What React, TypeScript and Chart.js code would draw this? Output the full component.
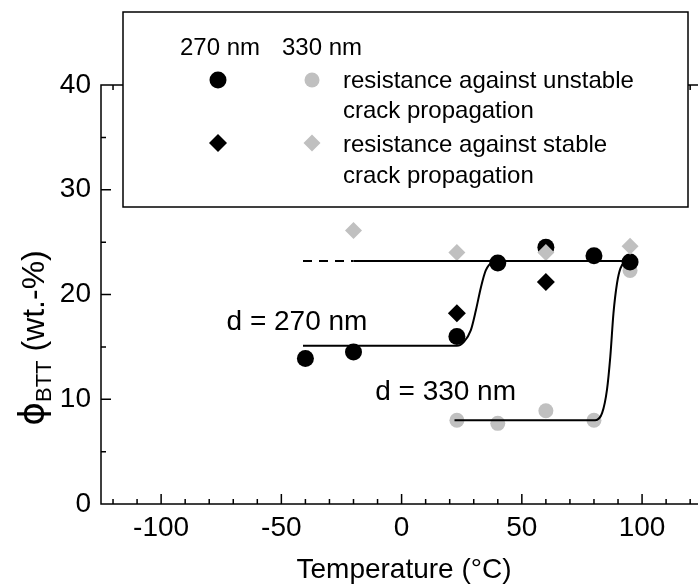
import React, { useEffect, useRef } from 'react';
import { Chart, registerables } from 'chart.js';

Chart.register(...registerables);

// ---------- data ----------
const xMajorLabels = [-100, -50, 0, 50, 100];
const yMajorLabels = [0, 10, 20, 30, 40];

const temp270Unstable = [-40, -20, 23, 40, 60, 80, 95];
const phi270Unstable = [13.9, 14.5, 16.0, 23.0, 24.5, 23.7, 23.1];

const temp270Stable = [23, 60];
const phi270Stable = [18.2, 21.2];

const temp330Unstable = [23, 40, 60, 80, 95];
const phi330Unstable = [8.0, 7.7, 8.9, 8.0, 22.3];

const temp330Stable = [-20, 23, 60, 95];
const phi330Stable = [26.1, 24.0, 24.0, 24.6];

// fitted step curves
const fit270Temp = [-41, 23, 26, 28.8, 30.9, 33, 35, 37.8, 40];
const fit270Phi = [15.1, 15.1, 15.5, 16.6, 18.5, 20.7, 22.3, 23.1, 23.2];

const fit330Temp = [22, 80.5, 83.4, 85.4, 86.8, 88.1, 89.6, 91, 93, 95];
const fit330Phi = [8.0, 8.0, 8.7, 10.9, 14.1, 18.2, 21.1, 22.5, 23.1, 23.2];

const plateauTemp = [-20, 95];
const plateauPhi = [23.2, 23.2];

const plateauDashTemp = [-41, -20];
const plateauDashPhi = [23.2, 23.2];

const legendHeaders = ['270 nm', '330 nm'];
const legendRows = [
  ['resistance against unstable', 'crack propagation'],
  ['resistance against stable', 'crack propagation'],
];
const annotationTexts = ['d = 270 nm', 'd = 330 nm'];

// ---------- styles ----------
const FONT = '"Liberation Sans", Arial, Helvetica, sans-serif';
const BLACK = '#000000';
const GRAY = '#c0c0c0';

const zip = (xs: number[], ys: number[]) => xs.map((x, i) => ({ x, y: ys[i] }));

const framePlugin = {
  id: 'frameTicks',
  afterDatasetsDraw(chart: any) {
    const { ctx, chartArea: a, scales } = chart;
    const xs = scales.x;
    const ys = scales.y;
    ctx.save();
    ctx.strokeStyle = BLACK;
    ctx.lineWidth = 1.5;
    ctx.strokeRect(a.left, a.top, a.right - a.left, a.bottom - a.top);
    ctx.beginPath();
    for (let v = -120; v <= 120; v += 10) {
      const len = v % 50 === 0 ? 10 : 5;
      const px = xs.getPixelForValue(v);
      ctx.moveTo(px, a.bottom);
      ctx.lineTo(px, a.bottom - len);
      ctx.moveTo(px, a.top);
      ctx.lineTo(px, a.top + len);
    }
    for (let v = 5; v < 40; v += 5) {
      const len = v % 10 === 0 ? 10 : 5;
      const py = ys.getPixelForValue(v);
      ctx.moveTo(a.left, py);
      ctx.lineTo(a.left + len, py);
    }
    ctx.stroke();
    ctx.restore();
  },
  afterDraw(chart: any) {
    const { ctx, scales } = chart;
    const xs = scales.x;
    const ys = scales.y;
    ctx.save();

    // annotations
    ctx.fillStyle = BLACK;
    ctx.font = `28px ${FONT}`;
    ctx.textBaseline = 'alphabetic';
    ctx.textAlign = 'left';
    ctx.fillText(annotationTexts[0], xs.getPixelForValue(-72.8), ys.getPixelForValue(16.6));
    ctx.fillText(annotationTexts[1], xs.getPixelForValue(-11), ys.getPixelForValue(9.9));

    // legend box
    const bx = 123, by = 12, bw = 565, bh = 195;
    ctx.fillStyle = '#ffffff';
    ctx.fillRect(bx, by, bw, bh);
    ctx.strokeStyle = BLACK;
    ctx.lineWidth = 1.5;
    ctx.strokeRect(bx, by, bw, bh);

    ctx.fillStyle = BLACK;
    ctx.font = `24px ${FONT}`;
    ctx.fillText(legendHeaders[0], 180, 55);
    ctx.fillText(legendHeaders[1], 282, 55);
    ctx.fillText(legendRows[0][0], 343, 88);
    ctx.fillText(legendRows[0][1], 343, 118);
    ctx.fillText(legendRows[1][0], 343, 152);
    ctx.fillText(legendRows[1][1], 343, 183);

    const circle = (cx: number, cy: number, r: number, c: string) => {
      ctx.beginPath();
      ctx.arc(cx, cy, r, 0, Math.PI * 2);
      ctx.fillStyle = c;
      ctx.fill();
    };
    const diamond = (cx: number, cy: number, r: number, c: string) => {
      ctx.beginPath();
      ctx.moveTo(cx - r, cy);
      ctx.lineTo(cx, cy - r);
      ctx.lineTo(cx + r, cy);
      ctx.lineTo(cx, cy + r);
      ctx.closePath();
      ctx.fillStyle = c;
      ctx.fill();
    };
    circle(218, 80, 8.5, BLACK);
    circle(312, 80, 7.5, GRAY);
    diamond(218, 143, 9, BLACK);
    diamond(312, 143, 8.5, GRAY);

    // y axis title with subscript
    ctx.translate(33, 338);
    ctx.rotate(-Math.PI / 2);
    ctx.fillStyle = BLACK;
    const phiFont = `36px "DejaVu Sans", ${FONT}`;
    const big = `32px ${FONT}`;
    const small = `22px ${FONT}`;
    ctx.font = phiFont;
    const w1 = ctx.measureText('ϕ').width;
    ctx.font = small;
    const w2 = ctx.measureText('BTT').width;
    ctx.font = big;
    const w3 = ctx.measureText(' (wt.-%)').width;
    let x = -(w1 + w2 + w3) / 2;
    const base = 11;
    ctx.font = phiFont;
    ctx.fillText('ϕ', x, base);
    x += w1;
    ctx.font = small;
    ctx.fillText('BTT', x, base + 7);
    x += w2;
    ctx.font = big;
    ctx.fillText(' (wt.-%)', x, base);

    ctx.restore();
  },
};

export default function App() {
  const ref = useRef<HTMLCanvasElement>(null);

  useEffect(() => {
    const canvas = ref.current;
    if (!canvas) return;
    const lineBase = {
      type: 'scatter' as const,
      showLine: true,
      borderColor: BLACK,
      borderWidth: 2,
      pointRadius: 0,
      fill: false,
      cubicInterpolationMode: 'monotone' as const,
      order: 0,
    };
    const chart = new Chart(canvas, {
      type: 'scatter',
      data: {
        datasets: [
          { ...lineBase, label: 'fit 270 nm', data: zip(fit270Temp, fit270Phi) },
          { ...lineBase, label: 'fit 330 nm', data: zip(fit330Temp, fit330Phi) },
          { ...lineBase, label: 'plateau', data: zip(plateauTemp, plateauPhi) },
          { ...lineBase, label: 'plateau dashed', data: zip(plateauDashTemp, plateauDashPhi), borderDash: [9, 7] },
          {
            label: '270 nm stable',
            data: zip(temp270Stable, phi270Stable),
            pointStyle: 'rectRot',
            pointRadius: 9,
            backgroundColor: BLACK,
            borderWidth: 0,
            order: 1,
          },
          {
            label: '330 nm stable',
            data: zip(temp330Stable, phi330Stable),
            pointStyle: 'rectRot',
            pointRadius: 8.5,
            backgroundColor: GRAY,
            borderWidth: 0,
            order: 2,
          },
          {
            label: '270 nm unstable',
            data: zip(temp270Unstable, phi270Unstable),
            pointStyle: 'circle',
            pointRadius: 8.5,
            backgroundColor: BLACK,
            borderWidth: 0,
            order: 3,
          },
          {
            label: '330 nm unstable',
            data: zip(temp330Unstable, phi330Unstable),
            pointStyle: 'circle',
            pointRadius: 7.5,
            backgroundColor: GRAY,
            borderWidth: 0,
            order: 4,
          },
        ],
      },
      options: {
        animation: false,
        responsive: false,
        layout: { padding: { top: 85, right: 5, left: 0, bottom: 0 } },
        plugins: {
          legend: { display: false },
          tooltip: { enabled: false },
        },
        scales: {
          x: {
            type: 'linear',
            min: -125,
            max: 127,
            grid: { display: false, drawTicks: false },
            border: { display: false },
            ticks: {
              stepSize: 10,
              autoSkip: false,
              maxRotation: 0,
              padding: 7,
              color: BLACK,
              font: { family: FONT, size: 28 },
              callback: (v: any) => (xMajorLabels.includes(Number(v)) ? String(v) : ''),
            },
            title: {
              display: true,
              text: 'Temperature (°C)',
              color: BLACK,
              font: { family: FONT, size: 28 },
              padding: { top: 0, bottom: 0 },
            },
            afterFit: (s: any) => {
              s.height = 83;
            },
          },
          y: {
            type: 'linear',
            min: 0,
            max: 40,
            grid: { display: false, drawTicks: false },
            border: { display: false },
            ticks: {
              stepSize: 5,
              padding: 10,
              color: BLACK,
              font: { family: FONT, size: 28 },
              callback: (v: any) => (yMajorLabels.includes(Number(v)) ? String(v) : ''),
            },
            afterFit: (s: any) => {
              s.width = 101;
            },
          },
        },
      },
      plugins: [framePlugin],
    });
    return () => chart.destroy();
  }, []);

  return (
    <div
      style={{
        position: 'fixed',
        left: 0,
        top: 0,
        width: 698,
        height: 587,
        overflow: 'hidden',
        background: '#ffffff',
      }}
    >
      <canvas ref={ref} width={716} height={587} style={{ display: 'block', width: 716, height: 587 }} />
    </div>
  );
}
